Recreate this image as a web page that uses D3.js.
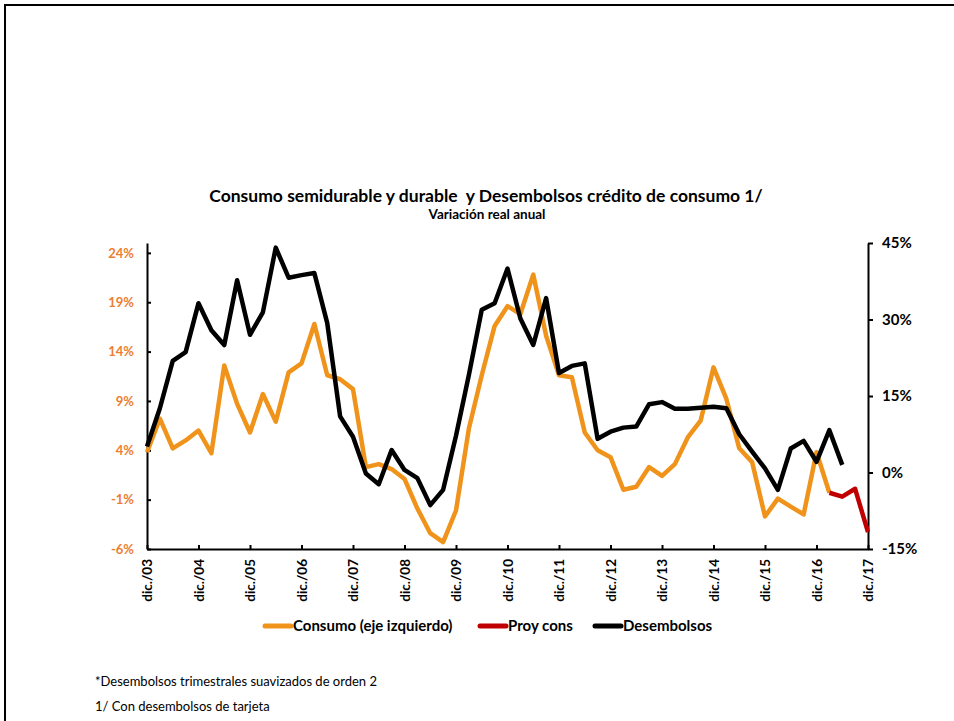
<!DOCTYPE html>
<html>
<head>
<meta charset="utf-8">
<script src="https://cdn.jsdelivr.net/npm/d3@7"></script>
<style>
  body { margin: 0; background: #fff; }
  svg text { font-family: Lato, "Open Sans", sans-serif; }
  .axis path, .axis line { stroke: #000; stroke-width: 2; }
  .axis text { font-weight: bold; fill: #000; }
</style>
</head>
<body>
<div class="chart"></div>
<script>
/* DATA */
// quarterly categories, dic./03 .. dic./17
var months = ["dic.", "mar.", "jun.", "sep."];
var quarters = d3.range(57).map(function(i) {
    var yr = 3 + Math.ceil(i / 4);
    return months[i % 4] + "/" + (yr < 10 ? "0" + yr : yr);
});
var yearLabels = ["dic./03", "dic./04", "dic./05", "dic./06", "dic./07", "dic./08", "dic./09",
    "dic./10", "dic./11", "dic./12", "dic./13", "dic./14", "dic./15", "dic./16", "dic./17"];

// Consumo (eje izquierdo), % real anual
var consumo = [3.8, 7.2, 4.2, 5.0, 6.0, 3.7, 12.6, 8.7, 5.8, 9.7, 6.9, 11.9, 12.8, 16.8, 11.6,
    11.2, 10.2, 2.3, 2.6, 2.1, 1.1, -1.9, -4.4, -5.3, -2.1, 6.2, 11.6, 16.6, 18.6, 17.8, 21.8,
    15.6, 11.6, 11.4, 5.8, 4.0, 3.3, 0.0, 0.3, 2.3, 1.4, 2.6, 5.3, 7.0, 12.4, 9.2, 4.2, 2.8,
    -2.7, -0.9, -1.7, -2.5, 3.8, -0.3];
// Proy cons, starts at mar./17
var proyStart = 53;
var proyCons = [-0.3, -0.7, 0.1, -4.3];
// Desembolsos (eje derecho)
var desembolsos = [5.1, 12.6, 21.9, 23.6, 33.2, 27.9, 25.0, 37.7, 27.0, 31.4, 44.1, 38.2, 38.7,
    39.1, 29.3, 11.0, 7.0, -0.2, -2.3, 4.4, 0.5, -1.1, -6.4, -3.4, 7.2, 19.1, 31.9, 33.2, 40.0,
    30.2, 25.0, 34.2, 19.5, 20.9, 21.4, 6.6, 8.0, 8.8, 9.0, 13.4, 13.8, 12.5, 12.5, 12.7, 12.9,
    12.6, 7.5, 4.1, 0.8, -3.4, 4.7, 6.2, 2.1, 8.3, 1.5];

var leftTicks = [-6, -1, 4, 9, 14, 19, 24];
var rightTicks = [-15, 0, 15, 30, 45];

/* SET UP */
var W = 954, H = 721;
var plot = { left: 147, right: 868, top: 243, bottom: 549 };

var xScale = d3.scalePoint().domain(quarters).range([plot.left, plot.right]);
var yLeft = d3.scaleLinear().domain([-6, 25]).range([plot.bottom, plot.top]);
var yRight = d3.scaleLinear().domain([-15, 45]).range([plot.bottom, plot.top]);

var svg = d3.select(".chart").append("svg")
    .attr("width", W)
    .attr("height", H);

// outer frame
svg.append("rect")
    .attr("x", 5).attr("y", 5)
    .attr("width", W + 10).attr("height", H + 10)
    .attr("fill", "none")
    .attr("stroke", "#000")
    .attr("stroke-width", 2);

// titles
svg.append("text")
    .attr("x", 486).attr("y", 202)
    .attr("text-anchor", "middle")
    .attr("font-size", 17.5).attr("font-weight", "bold")
    .style("white-space", "pre")
    .text("Consumo semidurable y durable  y Desembolsos crédito de consumo 1/");
svg.append("text")
    .attr("x", 487).attr("y", 219)
    .attr("text-anchor", "middle")
    .attr("font-size", 13.5).attr("font-weight", "bold")
    .text("Variación real anual");

/* AXES */
svg.append("g")
    .attr("class", "axis")
    .attr("transform", "translate(" + plot.left + ",0)")
    .call(d3.axisLeft(yLeft).tickValues(leftTicks).tickSizeInner(-4).tickSizeOuter(0).tickPadding(13)
        .tickFormat(function(d) { return d + "%"; }))
    .call(function(g) {
        g.selectAll("text").attr("font-size", 13).style("fill", "#ED7D31");
    });

svg.append("g")
    .attr("class", "axis")
    .attr("transform", "translate(" + plot.right + ",0)")
    .call(d3.axisRight(yRight).tickValues(rightTicks).tickSizeInner(5).tickSizeOuter(0).tickPadding(9)
        .tickFormat(function(d) { return d + "%"; }))
    .call(function(g) {
        g.selectAll("text").attr("font-size", 15);
    });

svg.append("g")
    .attr("class", "axis")
    .attr("transform", "translate(0," + plot.bottom + ")")
    .call(d3.axisBottom(xScale).tickValues(yearLabels).tickSizeInner(-4).tickSizeOuter(0))
    .call(function(g) {
        g.selectAll("text")
            .attr("font-size", 13.5)
            .attr("transform", "rotate(-90)")
            .attr("x", -10)
            .attr("y", 0)
            .attr("dy", "0.35em")
            .attr("text-anchor", "end");
    });

/* LINES */
var lineLeft = d3.line()
    .x(function(d) { return xScale(quarters[d.i]); })
    .y(function(d) { return yLeft(d.v); });
var lineRight = d3.line()
    .x(function(d) { return xScale(quarters[d.i]); })
    .y(function(d) { return yRight(d.v); });

function toPts(arr, start) {
    return arr.map(function(v, k) { return { i: k + start, v: v }; });
}

svg.append("path")
    .datum(toPts(consumo, 0))
    .attr("fill", "none")
    .attr("stroke", "#F0931B")
    .attr("stroke-width", 4.5)
    .attr("stroke-linejoin", "round")
    .attr("d", lineLeft);

svg.append("path")
    .datum(toPts(proyCons, proyStart))
    .attr("fill", "none")
    .attr("stroke", "#C00000")
    .attr("stroke-width", 4.5)
    .attr("stroke-linejoin", "round")
    .attr("d", lineLeft);

svg.append("path")
    .datum(toPts(desembolsos, 0))
    .attr("fill", "none")
    .attr("stroke", "#000")
    .attr("stroke-width", 4.5)
    .attr("stroke-linejoin", "round")
    .attr("d", lineRight);

/* LEGEND */
var legendItems = [
    { label: "Consumo (eje izquierdo)", color: "#F0931B", x: 263 },
    { label: "Proy cons", color: "#C00000", x: 478 },
    { label: "Desembolsos", color: "#000", x: 593 }
];
var legend = svg.selectAll(".legend")
    .data(legendItems)
    .enter().append("g")
    .attr("class", "legend")
    .attr("transform", function(d) { return "translate(" + d.x + ",626)"; });
legend.append("line")
    .attr("x1", 2).attr("x2", 28)
    .attr("stroke", function(d) { return d.color; })
    .attr("stroke-width", 5)
    .attr("stroke-linecap", "round");
legend.append("text")
    .attr("x", 30).attr("dy", "0.35em")
    .attr("font-size", 15).attr("font-weight", "bold")
    .text(function(d) { return d.label; });

/* FOOTNOTES */
svg.append("text")
    .attr("x", 95).attr("y", 686)
    .attr("font-size", 13)
    .text("*Desembolsos trimestrales suavizados de orden 2");
svg.append("text")
    .attr("x", 95).attr("y", 711)
    .attr("font-size", 13)
    .text("1/ Con desembolsos de tarjeta");
</script>
</body>
</html>
